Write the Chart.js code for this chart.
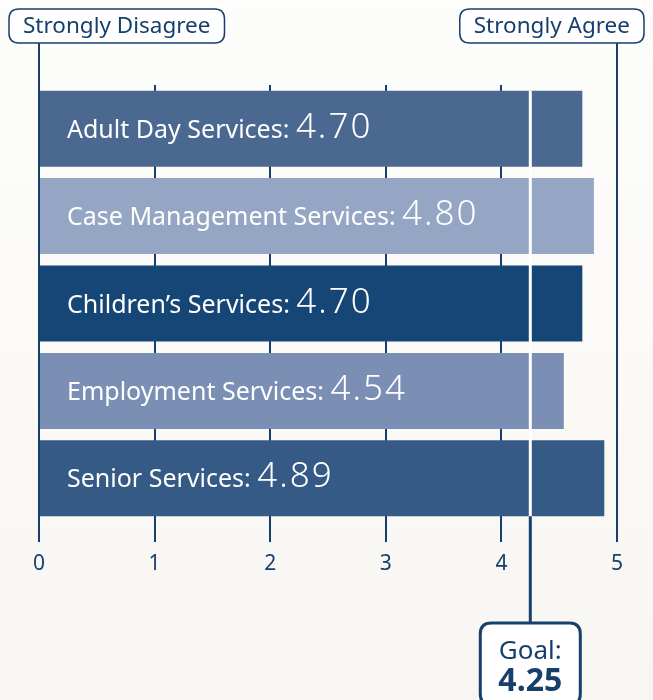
<!DOCTYPE html>
<html>
<head>
<meta charset="utf-8">
<script src="https://cdn.jsdelivr.net/npm/chart.js@4.4.1/dist/chart.umd.min.js"></script>
<style>
html, body { margin: 0; padding: 0; }
body { width: 653px; height: 700px; overflow: hidden; background: linear-gradient(#fdfdfc, #f8f6f2); }
#wrap { position: relative; width: 653px; height: 700px; }
</style>
</head>
<body>
<div id="wrap"><canvas id="chart"></canvas></div>
<script>
// --- data -------------------------------------------------------------
var categories = ["Adult Day Services", "Case Management Services", "Children\u2019s Services", "Employment Services", "Senior Services"];
var scores = [4.70, 4.80, 4.70, 4.54, 4.89];
var tickValues = [0, 1, 2, 3, 4, 5];
var endLabels = ["Strongly Disagree", "Strongly Agree"];
var goalLabel = "Goal:";
var goalValue = 4.25;

// --- styles -----------------------------------------------------------
var NAVY = "#173f6c";
var FONT = "'Noto Sans', sans-serif";
var barColors = ["#4a6890", "#94a6c3", "#164675", "#7a8fb3", "#345a85"];

function roundRect(ctx, x, y, w, h, r) {
    ctx.beginPath();
    ctx.moveTo(x + r, y);
    ctx.lineTo(x + w - r, y);
    ctx.quadraticCurveTo(x + w, y, x + w, y + r);
    ctx.lineTo(x + w, y + h - r);
    ctx.quadraticCurveTo(x + w, y + h, x + w - r, y + h);
    ctx.lineTo(x + r, y + h);
    ctx.quadraticCurveTo(x, y + h, x, y + h - r);
    ctx.lineTo(x, y + r);
    ctx.quadraticCurveTo(x, y, x + r, y);
    ctx.closePath();
}

function drawEndLabel(ctx, text, anchorX, side) {
    ctx.font = "22.5px " + FONT;
    var w = ctx.measureText(text).width + 28;
    var left = side == "left" ? anchorX - 30 : anchorX + 27 - w;
    roundRect(ctx, left, 9, w, 34, 10);
    ctx.fillStyle = "#ffffff";
    ctx.fill();
    ctx.lineWidth = 1.5;
    ctx.strokeStyle = NAVY;
    ctx.stroke();
    ctx.fillStyle = NAVY;
    ctx.textAlign = "center";
    ctx.textBaseline = "middle";
    ctx.fillText(text, left + w / 2, 27);
}

// --- overlay: end labels, goal line, bar texts -------------------------
var overlayPlugin = {
    id: "overlay",
    beforeDatasetsDraw: function (chart) {
        var ctx = chart.ctx, x = chart.scales.x, area = chart.chartArea;
        ctx.save();
        ctx.strokeStyle = NAVY;
        ctx.lineWidth = 2;
        [x.min, x.max].forEach(function (v) {
            var px = Math.round(x.getPixelForValue(v));
            ctx.beginPath();
            ctx.moveTo(px, 42);
            ctx.lineTo(px, area.top);
            ctx.stroke();
        });
        drawEndLabel(ctx, endLabels[0], x.getPixelForValue(x.min), "left");
        drawEndLabel(ctx, endLabels[1], x.getPixelForValue(x.max), "right");
        ctx.restore();
    },
    afterDatasetsDraw: function (chart) {
        var ctx = chart.ctx, x = chart.scales.x, area = chart.chartArea;
        var bars = chart.getDatasetMeta(0).data;
        var first = bars[0], last = bars[bars.length - 1];
        var gx = x.getPixelForValue(goalValue);
        var barTop = first.y - first.height / 2;
        var barBottom = last.y + last.height / 2;
        ctx.save();

        // goal line: white across the bars, navy down to the box
        ctx.lineWidth = 3;
        ctx.strokeStyle = "#ffffff";
        ctx.beginPath();
        ctx.moveTo(gx, barTop);
        ctx.lineTo(gx, barBottom);
        ctx.stroke();
        ctx.strokeStyle = NAVY;
        ctx.beginPath();
        ctx.moveTo(gx, barBottom);
        ctx.lineTo(gx, 623);
        ctx.stroke();

        roundRect(ctx, gx - 50, 623, 100, 82, 11);
        ctx.fillStyle = "#ffffff";
        ctx.fill();
        ctx.lineWidth = 3;
        ctx.stroke();
        ctx.fillStyle = NAVY;
        ctx.textAlign = "center";
        ctx.textBaseline = "alphabetic";
        ctx.font = "26px " + FONT;
        ctx.fillText(goalLabel, gx, 659);
        ctx.font = "bold 32px " + FONT;
        ctx.fillText(goalValue.toFixed(2), gx, 691);

        // category name and score inside each bar
        ctx.textAlign = "left";
        ctx.fillStyle = "#ffffff";
        bars.forEach(function (bar, i) {
            var tx = area.left + 28;
            var ty = bar.y + 9;
            ctx.font = "25px " + FONT;
            var name = categories[i] + ": ";
            ctx.fillText(name, tx, ty);
            tx += ctx.measureText(name).width;
            ctx.font = "300 35px " + FONT;
            ctx.letterSpacing = "2px";
            ctx.fillText(scores[i].toFixed(2), tx, ty);
            ctx.letterSpacing = "0px";
        });
        ctx.restore();
    }
};

// --- chart ------------------------------------------------------------
var chart = new Chart(document.getElementById("chart"), {
    type: "bar",
    data: {
        labels: categories,
        datasets: [{
            data: scores,
            backgroundColor: barColors,
            borderWidth: 0,
            barPercentage: 0.87,
            categoryPercentage: 1.0
        }]
    },
    options: {
        indexAxis: "y",
        responsive: true,
        maintainAspectRatio: false,
        animation: false,
        layout: {padding: {top: 85, left: 39, right: 36, bottom: 0}},
        plugins: {legend: {display: false}, tooltip: {enabled: false}},
        scales: {
            x: {
                min: tickValues[0],
                max: tickValues[tickValues.length - 1],
                afterBuildTicks: function (scale) {
                    scale.ticks = tickValues.map(function (v) { return {value: v}; });
                },
                ticks: {color: NAVY, font: {family: FONT, size: 21}, padding: 9},
                grid: {color: NAVY, lineWidth: 2, tickLength: 20, tickColor: NAVY},
                border: {display: false},
                afterFit: function (scale) { scale.height = 178; }
            },
            y: {display: false}
        }
    },
    plugins: [overlayPlugin]
});
</script>
</body>
</html>
